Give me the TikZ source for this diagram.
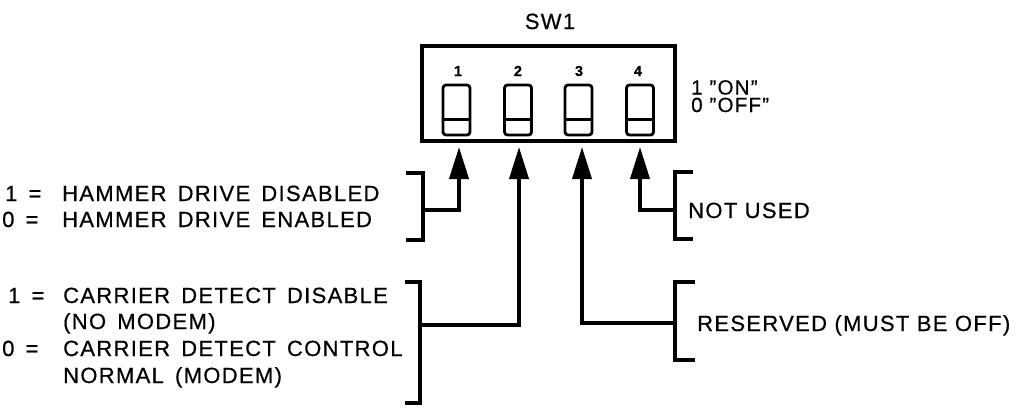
\documentclass[tikz,border=0pt]{standalone}
\usepackage{fontspec}
\setmainfont{Liberation Sans}[LetterSpace=6,FakeBold=0.5]
\newfontfamily\leftfont{Liberation Sans}[LetterSpace=6,WordSpace=1.5,FakeBold=0.5]
\usetikzlibrary{arrows.meta}
\begin{document}
\begin{tikzpicture}[x=1pt,y=-1pt,
  lbl/.style={anchor=base west,inner sep=0pt,font=\fontsize{22}{22}\selectfont},
  llbl/.style={lbl,font=\leftfont\fontsize{22}{22}\selectfont},
  wire/.style={line width=3.8pt,line join=miter},
  arr/.style={wire,-{Triangle[length=32pt,width=19pt]}},
  brk/.style={line width=3.8pt,line join=miter},
  swl/.style={line width=2.8pt},
  swbox/.style={draw,line width=2.8pt,rounded corners=3pt,minimum width=27pt,minimum height=50pt,inner sep=0pt},
  num/.style={anchor=base,inner sep=0pt,font=\bfseries\fontsize{14.5}{14.5}\selectfont}
]
\useasboundingbox (0,0) rectangle (1022,407);

% title and housing
\node[lbl,anchor=base] (title) at (550,29) {SW1};
\node[draw,line width=3.2pt,minimum width=253pt,minimum height=95pt,inner sep=0pt] (box) at (548.5,93.5) {};

% switches
\node[swbox] (s1) at (456.5,110) {};
\node[swbox] (s2) at (518,110) {};
\node[swbox] (s3) at (578.5,110) {};
\node[swbox] (s4) at (640,110) {};
\foreach \s in {s1,s2,s3,s4}{
  \draw[swl] (\s.south west) ++(0,-17) -- ++(27,0);
}
\node[num] (n1) at (458,76) {1};
\node[num] (n2) at (518,76) {2};
\node[num] (n3) at (579,76) {3};
\node[num] (n4) at (638,76) {4};

\node[lbl,anchor=north west,align=left,font=\fontsize{20.5}{17.5}\selectfont] (onoff) at (691,80) {1 ''ON''\\0 ''OFF''};

% arrow tips
\coordinate (t1) at (459,147);
\coordinate (t2) at (519,147);
\coordinate (t3) at (582,147);
\coordinate (t4) at (640,147);

% brackets
\draw[brk] (406,173) -- (423,173) -- (423,240) -- (406,240);
\coordinate (h) at (423,210);
\draw[brk] (405,282) -- (420,282) -- (420,403) -- (405,403);
\coordinate (c) at (420,325);
\draw[brk] (693,172) -- (675,172) -- (675,239) -- (693,239);
\coordinate (n) at (675,210);
\draw[brk] (695,282) -- (675,282) -- (675,360) -- (695,360);
\coordinate (r) at (675,323);

% connectors
\draw[arr] (h) -| (t1);
\draw[arr] (c) -| (t2);
\draw[arr] (r) -| (t3);
\draw[arr] (n) -| (t4);

% texts
\node[llbl] (h1) at (5,201) {\makebox[57pt][l]{1 =}HAMMER DRIVE DISABLED};
\node[llbl] (h0) at (2,227) {\makebox[60pt][l]{0 =}HAMMER DRIVE ENABLED};
\node[llbl] (c1) at (8,303) {\makebox[55pt][l]{1 =}CARRIER DETECT DISABLE};
\node[llbl] (c1b) at (63,329) {(NO MODEM)};
\node[llbl] (c0) at (2,356) {\makebox[61pt][l]{0 =}CARRIER DETECT CONTROL};
\node[llbl] (c0b) at (63,383) {NORMAL (MODEM)};
\node[lbl] (nu) at (688,218) {NOT USED};
\node[lbl] (rs) at (697,331) {RESERVED (MUST BE OFF)};
\end{tikzpicture}
\end{document}
